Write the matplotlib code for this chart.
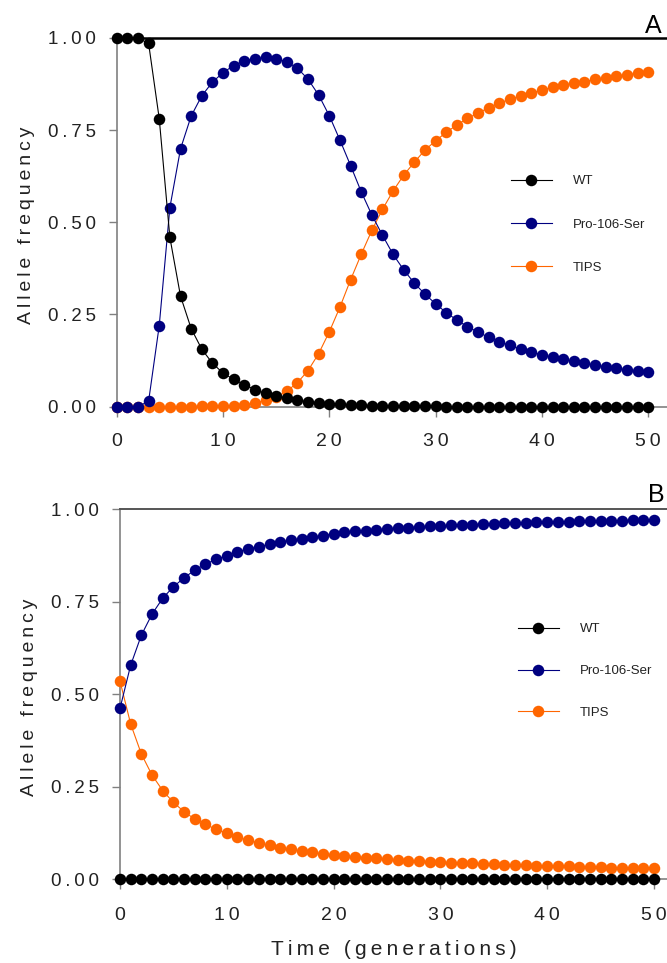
import matplotlib
matplotlib.use("Agg")
import matplotlib.pyplot as plt
from matplotlib.ticker import FuncFormatter

plt.rcParams["font.family"] = ["Liberation Sans", "DejaVu Sans"]

GENERATIONS = list(range(51))

# panel A: allele frequencies
A_WT = [1.0, 1.0, 1.0, 0.985, 0.781, 0.459, 0.300, 0.212, 0.156, 0.118,
        0.091, 0.074, 0.060, 0.046, 0.036, 0.030, 0.023, 0.017, 0.014, 0.011,
        0.008, 0.006, 0.005, 0.004, 0.003, 0.002, 0.002, 0.001, 0.001, 0.001,
        0.001, 0.0, 0.0, 0.0, 0.0, 0.0, 0.0, 0.0, 0.0, 0.0,
        0.0, 0.0, 0.0, 0.0, 0.0, 0.0, 0.0, 0.0, 0.0, 0.0, 0.0]
A_PRO = [0.0, 0.0, 0.0, 0.015, 0.220, 0.540, 0.699, 0.788, 0.843, 0.880,
         0.906, 0.925, 0.938, 0.944, 0.947, 0.944, 0.935, 0.918, 0.888, 0.845,
         0.789, 0.723, 0.654, 0.583, 0.520, 0.465, 0.413, 0.371, 0.335, 0.305,
         0.279, 0.255, 0.235, 0.217, 0.202, 0.188, 0.176, 0.166, 0.156, 0.148,
         0.141, 0.134, 0.128, 0.123, 0.118, 0.113, 0.108, 0.104, 0.100, 0.097, 0.093]
A_TIPS = [0.0, 0.0, 0.0, 0.0, 0.0, 0.0, 0.0, 0.0, 0.001, 0.001,
          0.002, 0.003, 0.005, 0.010, 0.017, 0.026, 0.042, 0.065, 0.098, 0.144,
          0.203, 0.270, 0.344, 0.413, 0.478, 0.535, 0.585, 0.628, 0.663, 0.696,
          0.721, 0.744, 0.764, 0.782, 0.796, 0.811, 0.823, 0.834, 0.843, 0.850,
          0.859, 0.866, 0.872, 0.877, 0.881, 0.888, 0.892, 0.897, 0.900, 0.904, 0.907]

# panel B
B_WT = [0.0, 0.0, 0.0, 0.0, 0.0, 0.0, 0.0, 0.0, 0.0, 0.0,
        0.0, 0.0, 0.0, 0.0, 0.0, 0.0, 0.0, 0.0, 0.0, 0.0,
        0.0, 0.0, 0.0, 0.0, 0.0, 0.0, 0.0, 0.0, 0.0, 0.0,
        0.0, 0.0, 0.0, 0.0, 0.0, 0.0, 0.0, 0.0, 0.0, 0.0,
        0.0, 0.0, 0.0, 0.0, 0.0, 0.0, 0.0, 0.0, 0.0, 0.0, 0.0]
B_PRO = [0.461, 0.578, 0.659, 0.716, 0.759, 0.790, 0.814, 0.835, 0.851, 0.864,
         0.874, 0.885, 0.892, 0.898, 0.905, 0.911, 0.916, 0.920, 0.924, 0.928,
         0.933, 0.937, 0.940, 0.942, 0.944, 0.946, 0.948, 0.950, 0.951, 0.953,
         0.954, 0.956, 0.957, 0.958, 0.959, 0.960, 0.961, 0.962, 0.963, 0.964,
         0.965, 0.965, 0.966, 0.967, 0.968, 0.968, 0.969, 0.969, 0.970, 0.970, 0.971]
B_TIPS = [0.535, 0.419, 0.338, 0.281, 0.239, 0.207, 0.182, 0.162, 0.148, 0.134,
          0.124, 0.113, 0.105, 0.097, 0.091, 0.085, 0.080, 0.076, 0.072, 0.068,
          0.065, 0.063, 0.060, 0.058, 0.056, 0.054, 0.052, 0.050, 0.049, 0.047,
          0.046, 0.044, 0.043, 0.042, 0.041, 0.040, 0.039, 0.038, 0.037, 0.036,
          0.035, 0.035, 0.034, 0.033, 0.032, 0.032, 0.031, 0.031, 0.030, 0.030, 0.029]

SERIES = ["WT", "Pro-106-Ser", "TIPS"]
COLORS = {"WT": "#000000", "Pro-106-Ser": "#000080", "TIPS": "#FF6600"}
ZORDER = {"WT": 5, "Pro-106-Ser": 4, "TIPS": 3}
X_TICKS = [0, 10, 20, 30, 40, 50]
Y_TICKS = [0.0, 0.25, 0.50, 0.75, 1.00]

THIN = "\u2009"
TEXT_C = "#222222"
AXIS_C = "#808080"


def spaced(s):
    # the original uses wide letter spacing
    return THIN.join(s)


def draw_panel(ax, data, x_right, top_color, top_lw, xpad):
    for name in ["TIPS", "Pro-106-Ser", "WT"]:
        ax.plot(GENERATIONS, data[name], color=COLORS[name], marker="o",
                markersize=8.3, markeredgewidth=0, linewidth=0.8,
                clip_on=False, zorder=ZORDER[name], label=name)

    ax.set_xlim(0, x_right)
    ax.set_ylim(0, 1)
    ax.set_xticks(X_TICKS)
    ax.set_yticks(Y_TICKS)
    ax.xaxis.set_major_formatter(FuncFormatter(lambda v, p: spaced(f"{v:.0f}")))
    ax.yaxis.set_major_formatter(FuncFormatter(lambda v, p: spaced(f"{v:.2f}")))
    ax.tick_params(axis="y", length=6, width=1, color=AXIS_C, pad=9,
                   labelsize=13.5, labelcolor=TEXT_C)
    ax.tick_params(axis="x", length=7, width=1, color=AXIS_C, pad=xpad,
                   labelsize=14, labelcolor=TEXT_C)
    ax.spines["right"].set_visible(False)
    for side in ("left", "bottom"):
        ax.spines[side].set_color(AXIS_C)
        ax.spines[side].set_linewidth(1.2)
    ax.spines["top"].set_color(top_color)
    ax.spines["top"].set_linewidth(top_lw)


def add_legend(ax, fig, x, y, spacing):
    h, l = ax.get_legend_handles_labels()
    order = [l.index(s) for s in SERIES]
    leg = ax.legend([h[i] for i in order], [l[i] for i in order],
                    loc="center left", bbox_to_anchor=(x, y),
                    bbox_transform=fig.transFigure, frameon=False,
                    fontsize=9.5, handlelength=3.1, handletextpad=1.6,
                    labelspacing=spacing, borderpad=0, borderaxespad=0)
    for t in leg.get_texts():
        t.set_color(TEXT_C)


fig = plt.figure(figsize=(6.67, 9.63), dpi=100)
ax_a = fig.add_axes([0.1750, 0.5777, 0.8250, 0.3829])
ax_b = fig.add_axes([0.1799, 0.0872, 0.8201, 0.3842])

draw_panel(ax_a, {"WT": A_WT, "Pro-106-Ser": A_PRO, "TIPS": A_TIPS},
           51.77, "#000000", 1.8, 12)
draw_panel(ax_b, {"WT": B_WT, "Pro-106-Ser": B_PRO, "TIPS": B_TIPS},
           51.22, "#555555", 1.4, 13.5)

add_legend(ax_a, fig, 0.7661, 0.7669, 2.35)
add_legend(ax_b, fig, 0.7766, 0.3032, 2.25)

fig.text(27 / 667, 1 - 225 / 963, spaced("Allele frequency"), rotation=90,
         ha="center", va="center", fontsize=14, color=TEXT_C)
fig.text(30 / 667, 1 - 697 / 963, spaced("Allele frequency"), rotation=90,
         ha="center", va="center", fontsize=14, color=TEXT_C)
fig.text(394 / 667, 1 - 949 / 963, spaced("Time (generations)"),
         ha="center", va="center", fontsize=15, color=TEXT_C)

fig.text(645 / 667, 1 - 33 / 963, "A", fontsize=18, ha="left", va="baseline")
fig.text(648 / 667, 1 - 502 / 963, "B", fontsize=18, ha="left", va="baseline")

fig.savefig("out.png", dpi=100)
